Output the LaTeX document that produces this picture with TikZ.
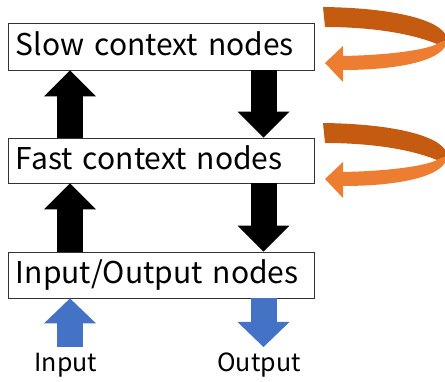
\documentclass[tikz,border=0pt]{standalone}
\usepackage{fontspec}
\setmainfont{Noto Sans CJK JP}
\usetikzlibrary{arrows.meta}
\definecolor{dorange}{HTML}{C55A11}
\definecolor{lorange}{HTML}{ED7D31}
\definecolor{blu}{HTML}{4472C4}
\tikzset{
  box/.style={draw=black!80, line width=0.8pt, fill=white, minimum width=306pt,
    text width=290pt, align=left, inner xsep=8pt, inner ysep=0pt,
    text height=20pt, text depth=2pt, font=\fontsize{30}{33}\selectfont},
  lbl/.style={anchor=base, inner sep=0pt, font=\fontsize{25}{29}\selectfont},
  blk/.style={line width=26pt, black, -{Triangle[width=52pt,length=26pt,line width=0pt]}},
  bluarr/.style={line width=26pt, blu, -{Triangle[width=52pt,length=25pt,line width=0pt]}},
  pics/turn/.style={code={
    \fill[dorange] (323,7) .. controls (400,8) and (447,22) .. (447,40)
      -- (437,44) .. controls (410,33) and (370,27) .. (325,27) -- cycle;
    \fill[lorange] (447,40) .. controls (447,60) and (400,70) .. (343,70)
      -- (343,82) -- (325,63) -- (343,46) -- (343,56)
      .. controls (390,55) and (425,50) .. (437,44) -- cycle;
  }}
}
\begin{document}
\begin{tikzpicture}[x=1pt,y=-1pt]
\useasboundingbox (0,0) rectangle (445,382);
\coordinate (upx) at (70,0);
\coordinate (dnx) at (263.5,0);
\node[box, minimum height=47pt] (slow) at (161,46.5) {Slow context nodes};
\node[box, minimum height=45pt] (fast) at (161,160.5) {Fast context nodes};
\node[box, minimum height=46pt] (io) at (161,275) {Input/Output nodes};
\draw[blk] (fast.north -| upx) -- (slow.south -| upx);
\draw[blk] (slow.south -| dnx) -- (fast.north -| dnx);
\draw[blk] (io.north -| upx) -- (fast.south -| upx);
\draw[blk] (fast.south -| dnx) -- (io.north -| dnx);
\coordinate (inb) at (70,347);
\coordinate (outt) at (263.5,347);
\draw[bluarr] (inb) -- (io.south -| upx);
\draw[bluarr] (io.south -| dnx) -- (outt);
\node[lbl] (inl) at (66,372) {Input};
\node[lbl] (outl) at (259,372) {Output};
\pic (loopa) at (0,0) {turn};
\pic (loopb) at (0,116) {turn};
\end{tikzpicture}
\end{document}
